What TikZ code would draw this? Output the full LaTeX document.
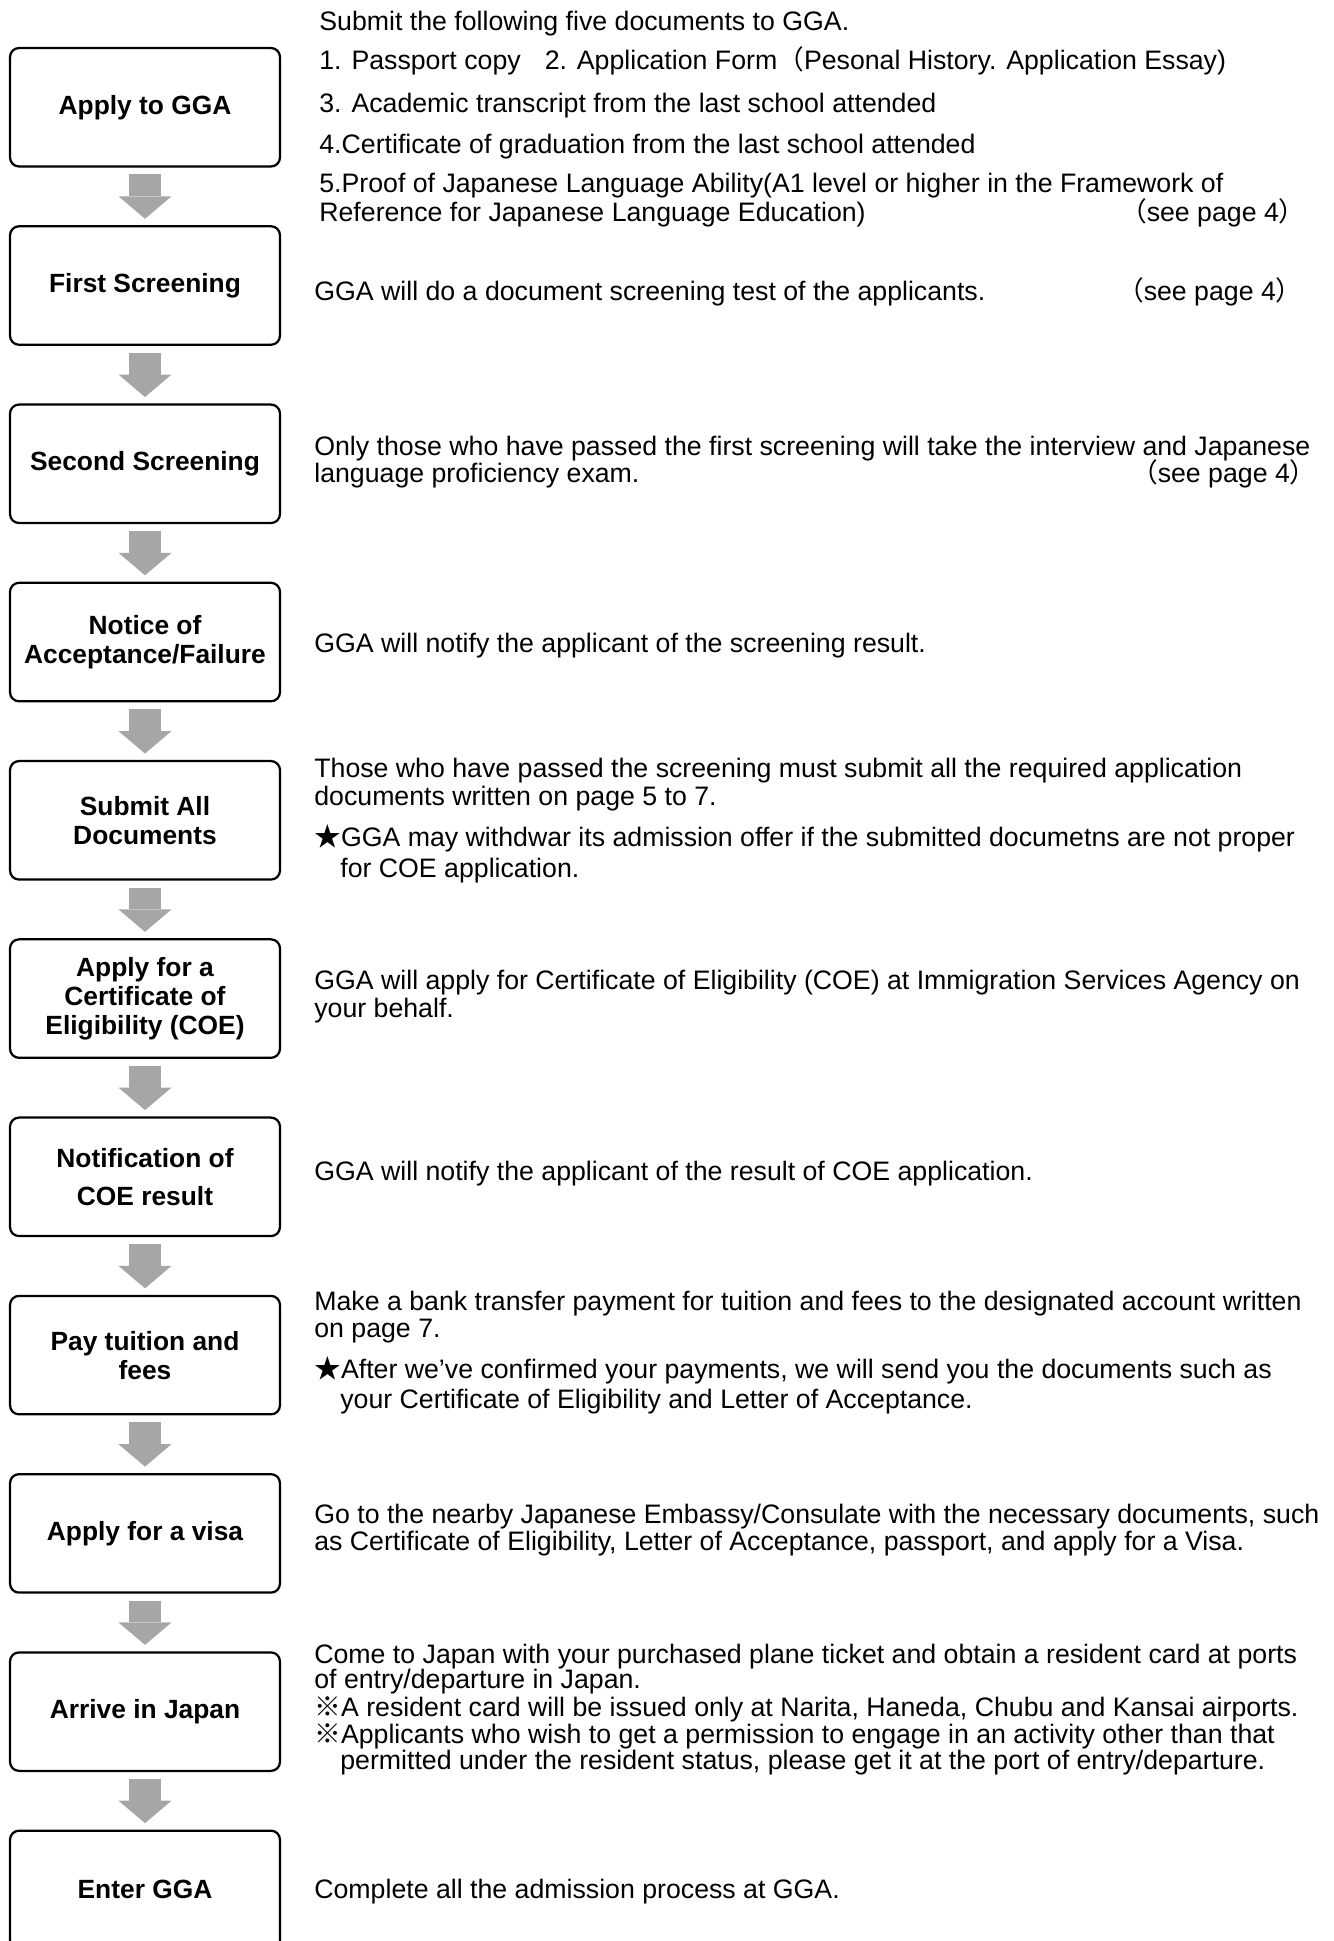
\documentclass[tikz,border=0pt]{standalone}
\usepackage{fontspec}
\setmainfont{Liberation Sans}
\newfontfamily\cjk{Noto Sans CJK JP}
\usepackage{xcolor}
\usetikzlibrary{positioning,arrows.meta}
\definecolor{arrowgray}{RGB}{166,166,166}
\newcommand{\jp}[1]{{\cjk #1}}

\begin{document}
\begin{tikzpicture}[x=0.02cm, y=-0.02cm, node distance=1.196cm,
  stage/.style={draw, rounded corners=0.18cm, line width=0.045cm, minimum width=5.4cm, minimum height=2.37cm, inner sep=0pt, outer sep=0pt, align=center, font=\fontsize{15pt}{16.5pt}\selectfont\bfseries},
  note/.style={anchor=base west, inner sep=0pt, font=\fontsize{15.2pt}{17pt}\selectfont},
  seepage/.style={anchor=base east, inner sep=0pt, font=\fontsize{15.2pt}{17pt}\selectfont},
  flow/.style={arrowgray, line width=0.65cm, shorten <=0.16cm, shorten >=0.15cm, -{Triangle[width=1.06cm, length=0.45cm, line width=0pt]}}]

\useasboundingbox (0,0) rectangle (1333,1941);

% steps on the left
\node[stage] (1) at (145,107.25) {Apply to GGA};
\node[stage] (2) [below=of 1] {First Screening};
\node[stage] (3) [below=of 2] {Second Screening};
\node[stage] (4) [below=of 3] {Notice of\\Acceptance/Failure};
\node[stage] (5) [below=of 4] {Submit All\\Documents};
\node[stage] (6) [below=of 5] {Apply for a\\Certificate of\\Eligibility (COE)};
\node[stage] (7) [below=of 6] {Notification of\\[5pt]COE result};
\node[stage] (8) [below=of 7] {Pay tuition and\\fees};
\node[stage] (9) [below=of 8] {Apply for a visa};
\node[stage] (10) [below=of 9] {Arrive in Japan};
\node[stage] (11) [below=of 10] {Enter GGA};

\foreach \a/\b in {1/2,2/3,3/4,4/5,5/6,6/7,7/8,8/9,9/10,10/11}
  \draw[flow] (\a) -- (\b);

% notes on the right
\node[note] (t1a) at (319,30) {Submit the following five documents to GGA.};
\node[note] (t1b) at (319,69) {1. Passport copy\hspace{0.9em}2. Application Form\jp{（}Pesonal History. Application Essay)};
\node[note] (t1c) at (319,112) {3. Academic transcript from the last school attended};
\node[note] (t1d) at (319,153) {4.Certificate of graduation from the last school attended};
\node[note] (t1e) at (319,192) {5.Proof of Japanese Language Ability(A1 level or higher in the Framework of};
\node[note] (t1f) at (319,221) {Reference for Japanese Language Education)};
\node[seepage] (p1) at (1306,221) {\jp{（}see page 4\jp{）}};

\node[note] (t2a) at (314,300) {GGA will do a document screening test of the applicants.};
\node[seepage] (p2) at (1303,300) {\jp{（}see page 4\jp{）}};

\node[note] (t3a) at (314,455) {Only those who have passed the first screening will take the interview and Japanese};
\node[note] (t3b) at (314,482) {language proficiency exam.};
\node[seepage] (p3) at (1317,482) {\jp{（}see page 4\jp{）}};

\node[note] (t4a) at (314,652) {GGA will notify the applicant of the screening result.};

\node[note] (t5a) at (314,777) {Those who have passed the screening must submit all the required application};
\node[note] (t5b) at (314,805) {documents written on page 5 to 7.};
\node[note] (t5c) at (314,846) {\jp{★}GGA may withdwar its admission offer if the submitted documetns are not proper};
\node[note] (t5d) at (340,877) {for COE application.};

\node[note] (t6a) at (314,989) {GGA will apply for Certificate of Eligibility (COE) at Immigration Services Agency on};
\node[note] (t6b) at (314,1017) {your behalf.};

\node[note] (t7a) at (314,1180) {GGA will notify the applicant of the result of COE application.};

\node[note] (t8a) at (314,1310) {Make a bank transfer payment for tuition and fees to the designated account written};
\node[note] (t8b) at (314,1337) {on page 7.};
\node[note] (t8c) at (314,1378) {\jp{★}After we've confirmed your payments, we will send you the documents such as};
\node[note] (t8d) at (340,1408) {your Certificate of Eligibility and Letter of Acceptance.};

\node[note] (t9a) at (314,1523) {Go to the nearby Japanese Embassy/Consulate with the necessary documents, such};
\node[note] (t9b) at (314,1550) {as Certificate of Eligibility, Letter of Acceptance, passport, and apply for a Visa.};

\node[note] (t10a) at (314,1663) {Come to Japan with your purchased plane ticket and obtain a resident card at ports};
\node[note] (t10b) at (314,1688) {of entry/departure in Japan.};
\node[note] (t10c) at (314,1716) {\jp{※}A resident card will be issued only at Narita, Haneda, Chubu and Kansai airports.};
\node[note] (t10d) at (314,1743) {\jp{※}Applicants who wish to get a permission to engage in an activity other than that};
\node[note] (t10e) at (340,1769) {permitted under the resident status, please get it at the port of entry/departure.};

\node[note] (t11a) at (314,1898) {Complete all the admission process at GGA.};
\end{tikzpicture}
\end{document}
